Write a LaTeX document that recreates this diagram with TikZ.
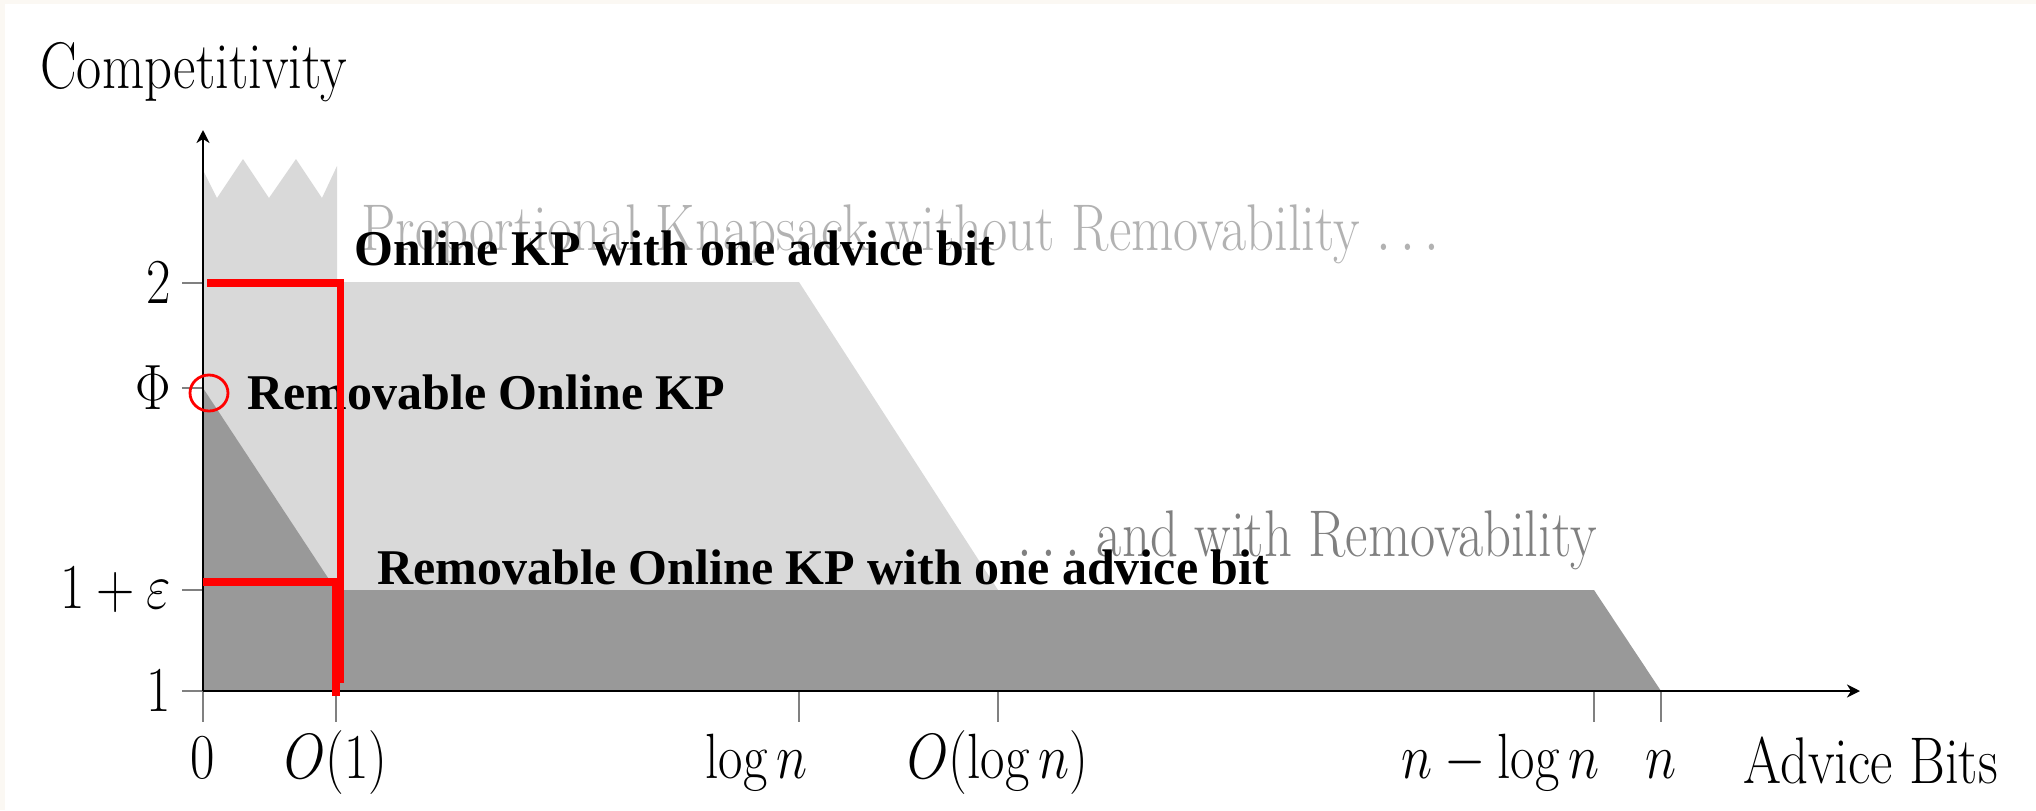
\RequirePackage{fix-cm}
\documentclass[tikz,border=0pt]{standalone}
\usepackage{fontspec}
\usetikzlibrary{arrows.meta}
\newfontfamily\notefont{Liberation Serif}
\definecolor{lightregion}{RGB}{217,217,217}
\definecolor{darkregion}{RGB}{153,153,153}
\definecolor{pagetint}{RGB}{251,248,243}
\newcommand{\narrowtext}[1]{\scalebox{0.83}[1]{#1}}
\tikzset{
    axisline/.style={
        line width=1.2pt,
        -{Stealth[length=6.5pt,width=6.5pt,inset=2pt]}
    },
    tickmark/.style={
        line width=0.8pt,
        draw=black!50
    },
    plottext/.style={
        inner sep=0pt,
        font=\fontsize{33}{40}\selectfont
    },
    ticklabel/.style={
        inner sep=0pt,
        font=\fontsize{32}{38}\selectfont
    },
    notelabel/.style={
        inner sep=0pt,
        anchor=base west,
        font=\notefont\bfseries\fontsize{25}{30}\selectfont
    },
    redmark/.style={
        draw=red,
        line width=3.6pt
    }
}

\begin{document}
\begin{tikzpicture}[x=0.5pt,y=-0.5pt]

% ---------------------------------------------------------
% Page
% ---------------------------------------------------------
\useasboundingbox (0,0) rectangle (2036,810);
\fill[pagetint] (0,0) rectangle (2036,810);
\fill[white] (5,4) rectangle (2036,810);

% ---------------------------------------------------------
% Regions
% ---------------------------------------------------------

% without removability (open at the top)
\fill[lightregion]
    (203,170) -- (217,198) -- (243,159) -- (269,198) -- (296,159)
    -- (322,198) -- (337,166) -- (337,282) -- (799,282)
    -- (998,590) -- (998,691) -- (203,691) -- cycle;

% with removability
\fill[darkregion]
    (203,388) -- (336,590) -- (1594,590) -- (1661,691)
    -- (203,691) -- cycle;

\node[plottext, anchor=base west, text=black!30] (withouttext)
    at (361,250) {\narrowtext{Proportional Knapsack without Removability $\dots$}};
\node[plottext, anchor=base west, text=black!50] (withtext)
    at (1017,556) {\narrowtext{$\dots$ and with Removability}};

% ---------------------------------------------------------
% Axes and ticks
% ---------------------------------------------------------
\foreach \y in {283,388,590,691}
    \draw[tickmark] (182,\y) -- (203,\y);
\foreach \x in {203,336,799,998,1594,1661}
    \draw[tickmark] (\x,691) -- (\x,722);

\draw[axisline] (203,691) -- (203,130);
\draw[axisline] (203,691) -- (1860,691);

\node[plottext, anchor=base west] (ytitle) at (40,88)
    {\narrowtext{Competitivity}};
\node[plottext, anchor=base west] (xtitle) at (1743,783)
    {\narrowtext{Advice Bits}};

\foreach \y/\lab in {283/2, 388/\Phi, 590/1+\varepsilon, 691/1}
    \node[ticklabel, anchor=east] (ylab\y) at (171,\y) {\narrowtext{$\lab$}};

\foreach \x/\lab/\anc in {203/0/base, 336/O(1)/base, 808/\log n/base east,
                          998/O(\log n)/base, 1600/n-\log n/base east, 1661/n/base}
    \node[ticklabel, anchor=\anc] (xlab\x) at (\x,778) {\narrowtext{$\lab$}};

% ---------------------------------------------------------
% Notes
% ---------------------------------------------------------
\node[notelabel] (onebit) at (354,265) {Online KP with one advice bit};
\node[notelabel] (removable) at (247,409) {Removable Online KP};
\node[notelabel] (removablebit) at (377,584)
    {Removable Online KP with one advice bit};

\draw[redmark] (207,283) -- (340.5,283) -- (340.5,683);
\draw[redmark, line width=3.9pt] (203,582) -- (336,582) -- (336,696);
\draw[red, line width=1.4pt] (209,393) ellipse [x radius=19, y radius=18];

\end{tikzpicture}
\end{document}
